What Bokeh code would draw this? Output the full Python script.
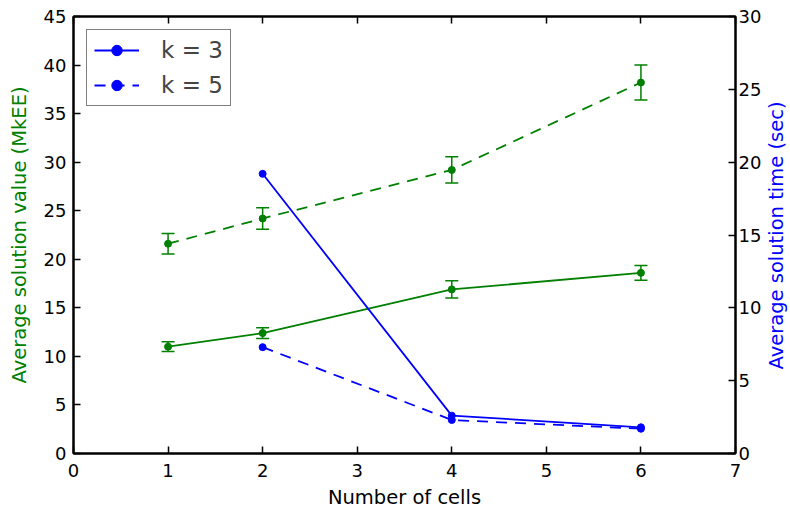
import math
from bokeh.plotting import figure
from bokeh.models import (Range1d, LinearAxis, Whisker, ColumnDataSource, TeeHead,
                          Legend, LegendItem, FixedTicker, Label, CustomJSTickFormatter)
from bokeh.embed import file_html
from bokeh.resources import INLINE

# ---- data ----
cells = [1, 2, 4, 6]
value_k3 = [11.0, 12.4, 16.9, 18.6]
value_k3_err = [0.5, 0.55, 0.9, 0.75]
value_k5 = [21.6, 24.2, 29.2, 38.2]
value_k5_err = [1.05, 1.1, 1.35, 1.8]
time_cells = [2, 4, 6]
time_k3 = [19.2, 2.6, 1.8]
time_k5 = [7.3, 2.3, 1.7]
x_ticks = [0, 1, 2, 3, 4, 5, 6, 7]
left_ticks = [0, 5, 10, 15, 20, 25, 30, 35, 40, 45]
right_ticks = [0, 5, 10, 15, 20, 25, 30]

GREEN = "#008000"
BLUE = "#0000ff"
FONT = "DejaVu Sans"
TICK_FS = "18px"
LABEL_FS = "19.5px"

p = figure(width=790, height=511, output_backend="svg", toolbar_location=None,
           x_range=Range1d(0, 7), y_range=Range1d(0, 45),
           min_border_left=73, min_border_top=16, min_border_right=55, min_border_bottom=58)
p.extra_y_ranges = {"time": Range1d(0, 30)}
p.grid.visible = False
p.outline_line_color = "black"
p.outline_line_width = 2
p.background_fill_color = "white"
p.border_fill_color = "white"


def style_axis(ax, ticks, label_color="black"):
    ax.ticker = FixedTicker(ticks=ticks)
    ax.major_tick_in = 7
    ax.major_tick_out = 0
    ax.minor_tick_in = 0
    ax.minor_tick_out = 0
    ax.axis_line_color = "black"
    ax.axis_line_width = 2
    ax.major_tick_line_width = 1.5
    ax.major_label_text_font = FONT
    ax.major_label_text_font_size = TICK_FS
    ax.major_label_text_color = "black"
    ax.axis_label_text_font = FONT
    ax.axis_label_text_font_size = LABEL_FS
    ax.axis_label_text_font_style = "normal"
    ax.axis_label_text_color = label_color


xa = p.xaxis[0]
style_axis(xa, x_ticks)
xa.axis_label = "Number of cells"
xa.major_label_standoff = 10
xa.axis_label_standoff = 6

ya = p.yaxis[0]
style_axis(ya, left_ticks, GREEN)
ya.axis_label = "Average solution value (MkEE)"
ya.major_label_standoff = 7
ya.axis_label_standoff = 10

ra = LinearAxis(y_range_name="time")
style_axis(ra, right_ticks, BLUE)
ra.major_label_text_color = "black"
ra.major_label_standoff = 3
p.add_layout(ra, "right")

ta = LinearAxis()
style_axis(ta, x_ticks)
ta.formatter = CustomJSTickFormatter(code="return ''")
ta.major_label_standoff = 0
p.add_layout(ta, "above")

right_title = Label(x=12, y=218, x_units="screen", y_units="screen",
                    text="Average solution time (sec)", angle=math.pi / 2,
                    text_align="center", text_baseline="middle",
                    text_font=FONT, text_font_size=LABEL_FS, text_color=BLUE)
p.add_layout(right_title, "right")

# ---- value series (green, left axis) ----
src3 = ColumnDataSource(dict(x=cells, y=value_k3,
                             lo=[v - e for v, e in zip(value_k3, value_k3_err)],
                             hi=[v + e for v, e in zip(value_k3, value_k3_err)]))
src5 = ColumnDataSource(dict(x=cells, y=value_k5,
                             lo=[v - e for v, e in zip(value_k5, value_k5_err)],
                             hi=[v + e for v, e in zip(value_k5, value_k5_err)]))

for src, dash in ((src3, "solid"), (src5, "11 8")):
    p.line("x", "y", source=src, line_color=GREEN, line_width=1.8, line_dash=dash)
    p.scatter("x", "y", source=src, size=7, fill_color=GREEN, line_color=GREEN)
    w = Whisker(source=src, base="x", lower="lo", upper="hi",
                line_color=GREEN, line_width=1.5,
                upper_head=TeeHead(size=13, line_color=GREEN, line_width=1.5),
                lower_head=TeeHead(size=13, line_color=GREEN, line_width=1.5))
    p.add_layout(w)

# ---- time series (blue, right axis) ----
tsrc = ColumnDataSource(dict(x=time_cells, k3=time_k3, k5=time_k5))
l3 = p.line("x", "k3", source=tsrc, y_range_name="time", line_color=BLUE, line_width=1.8)
s3 = p.scatter("x", "k3", source=tsrc, y_range_name="time", size=7,
               fill_color=BLUE, line_color=BLUE)
l5 = p.line("x", "k5", source=tsrc, y_range_name="time", line_color=BLUE, line_width=1.8,
            line_dash="11 8")
s5 = p.scatter("x", "k5", source=tsrc, y_range_name="time", size=7,
               fill_color=BLUE, line_color=BLUE)

legend = Legend(items=[LegendItem(label="k = 3", renderers=[l3, s3]),
                       LegendItem(label="k = 5", renderers=[l5, s5])],
                location="top_left", margin=13, padding=7, spacing=9,
                glyph_width=45, glyph_height=26, label_height=26, label_standoff=22,
                label_text_font=FONT, label_text_font_size="23px",
                border_line_color="black", border_line_width=1.5,
                background_fill_color="white", background_fill_alpha=1)
p.add_layout(legend)

open("out.html", "w").write(file_html(p, INLINE))
